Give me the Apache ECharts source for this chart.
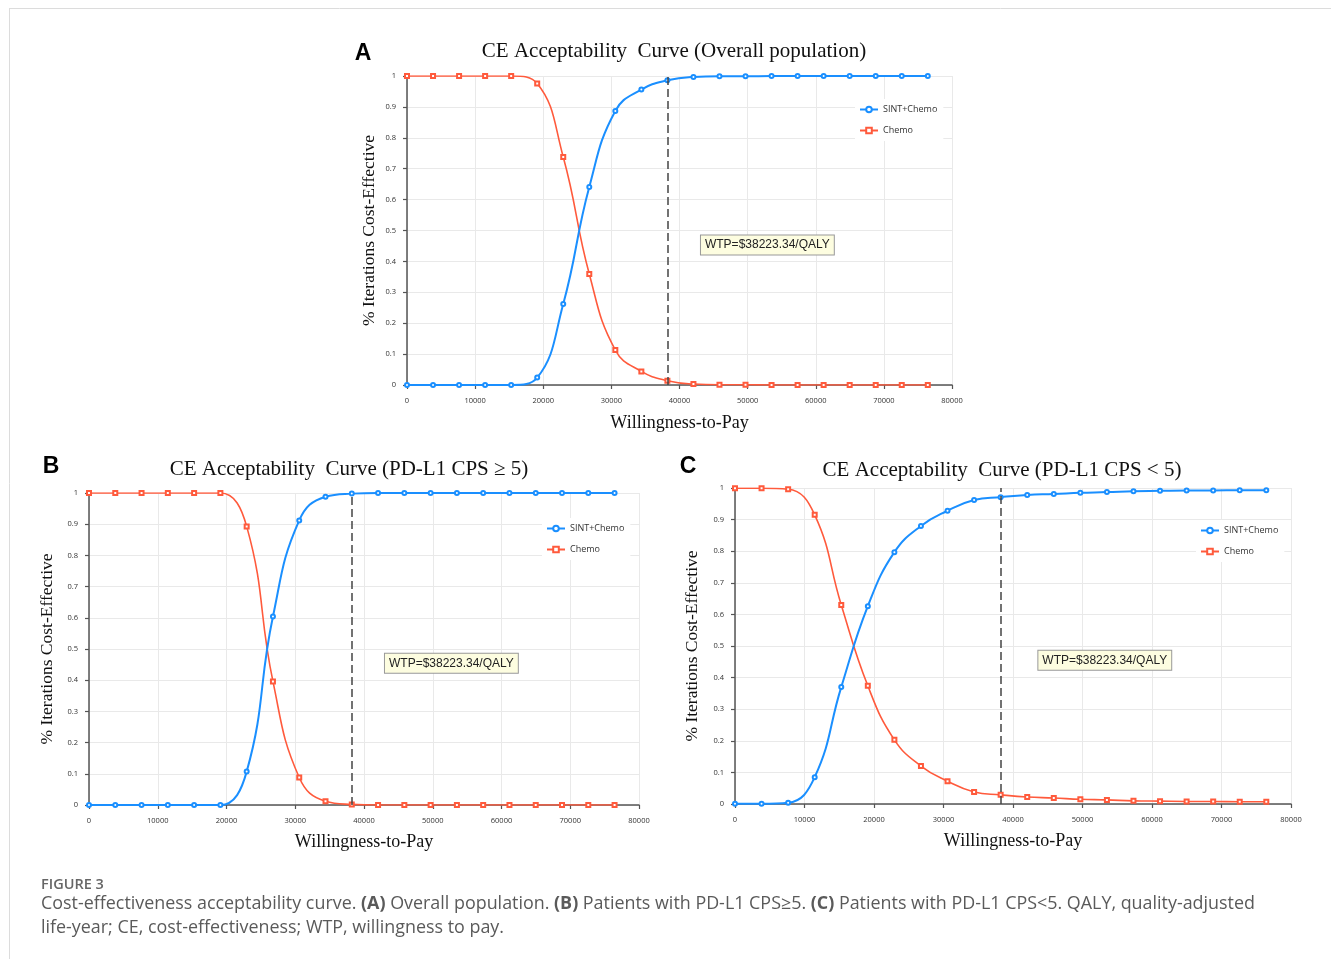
<!DOCTYPE html>
<html><head><meta charset="utf-8">
<script src="https://cdn.jsdelivr.net/npm/echarts@6/dist/echarts.min.js"></script>
<style>html,body{margin:0;padding:0;background:#fff}#c{width:1331px;height:959px}</style>
</head><body><div id="c"></div>
<script>
// Willingness-to-pay points (21 steps, WTP threshold at index 10)
const wtp = [0, 3822.33, 7644.67, 11467.00, 15289.34, 19111.67, 22934.00, 26756.34, 30578.67, 34401.01,
  38223.34, 42045.67, 45868.01, 49690.34, 53512.68, 57335.01, 61157.34, 64979.68, 68802.01, 72624.35, 76446.68];
const wtpThreshold = 38223.34;
const seriesNames = ['SINT+Chemo', 'Chemo'];
const xTicks = [0, 10000, 20000, 30000, 40000, 50000, 60000, 70000, 80000];
const yTicks = [0, 0.1, 0.2, 0.3, 0.4, 0.5, 0.6, 0.7, 0.8, 0.9, 1];

// Panel A: Overall population
const sintA  = [0, 0, 0, 0, 0, 0.024, 0.262, 0.641, 0.887, 0.956, 0.986, 0.997, 0.999, 0.999, 1, 1, 1, 1, 1, 1, 1];
const chemoA = [1, 1, 1, 1, 1, 0.976, 0.738, 0.359, 0.113, 0.044, 0.014, 0.003, 0.001, 0.001, 0, 0, 0, 0, 0, 0, 0];
// Panel B: PD-L1 CPS >= 5
const sintB  = [0, 0, 0, 0, 0, 0, 0.107, 0.604, 0.912, 0.988, 0.998, 1, 1, 1, 1, 1, 1, 1, 1, 1, 1];
const chemoB = [1, 1, 1, 1, 1, 1, 0.893, 0.396, 0.088, 0.012, 0.002, 0, 0, 0, 0, 0, 0, 0, 0, 0, 0];
// Panel C: PD-L1 CPS < 5
const sintC  = [0.001, 0.001, 0.004, 0.085, 0.370, 0.626, 0.797, 0.880, 0.928, 0.962, 0.971, 0.978, 0.981, 0.985, 0.987, 0.990, 0.991, 0.992, 0.992, 0.993, 0.993];
const chemoC = [0.999, 0.999, 0.996, 0.915, 0.630, 0.374, 0.203, 0.120, 0.072, 0.038, 0.029, 0.022, 0.019, 0.015, 0.013, 0.010, 0.009, 0.008, 0.008, 0.007, 0.007];

const titles = {
  A: 'CE Acceptability  Curve (Overall population)',
  B: 'CE Acceptability  Curve (PD-L1 CPS \u2265 5)',
  C: 'CE Acceptability  Curve (PD-L1 CPS < 5)'
};
const yName = '% Iterations Cost-Effective';
const xName = 'Willingness-to-Pay';
const wtpLabel = 'WTP=$38223.34/QALY';

const BLUE = '#1a8fff', RED = '#ff5a3c';
const SERIF = '"Liberation Serif","DejaVu Serif",serif';
const SANS = '"Open Sans","Liberation Sans",sans-serif';

const panels = [
  {key:'A', sint:sintA, chemo:chemoA, grid:{left:407, top:76, width:545, height:309},
   yGap:22, xGap:21, legend:{left:855, top:99}, box:[43150, 0.453],
   title:[674, 51], letter:[363, 54]},
  {key:'B', sint:sintB, chemo:chemoB, grid:{left:89, top:493, width:550, height:312},
   yGap:26, xGap:20, legend:{left:542, top:518}, box:[43050, 0.454],
   title:[349, 469], letter:[51, 467]},
  {key:'C', sint:sintC, chemo:chemoC, grid:{left:735, top:488, width:556, height:316},
   yGap:27, xGap:20, legend:{left:1196, top:520}, box:[43650, 0.455],
   title:[1002, 470], letter:[688, 467]}
];

const grids = [], xAxes = [], yAxes = [], series = [], legends = [], graphics = [];
panels.forEach((p, i) => {
  grids.push(Object.assign({containLabel:false}, p.grid));
  xAxes.push({
    type:'value', gridIndex:i, min:xTicks[0], max:xTicks[xTicks.length-1], interval:xTicks[1]-xTicks[0],
    offset:8, name:xName, nameLocation:'middle', nameGap:p.xGap,
    nameTextStyle:{fontFamily:SERIF, fontSize:18, color:'#111'},
    axisLine:{show:true, lineStyle:{color:'#555', width:1.5}},
    axisTick:{show:true, length:4, lineStyle:{color:'#555', width:1.2}},
    axisLabel:{fontSize:7.5, color:'#333', fontFamily:SANS, margin:4, formatter:v => String(v)},
    splitLine:{show:true, lineStyle:{color:'#e9e9e9', width:1}}
  });
  yAxes.push({
    type:'value', gridIndex:i, min:yTicks[0], max:yTicks[yTicks.length-1], interval:0.1,
    offset:7, name:yName, nameLocation:'middle', nameGap:p.yGap,
    nameTextStyle:{fontFamily:SERIF, fontSize:17.5, color:'#111'},
    axisLine:{show:true, lineStyle:{color:'#555', width:1.5}},
    axisTick:{show:true, length:4, lineStyle:{color:'#555', width:1.2}},
    axisLabel:{fontSize:7.5, color:'#333', fontFamily:SANS, margin:4},
    splitLine:{show:true, lineStyle:{color:'#e9e9e9', width:1}}
  });
  series.push({
    name:seriesNames[0], type:'line', xAxisIndex:i, yAxisIndex:i, smooth:0.45,
    data:wtp.map((x, k) => [x, p.sint[k]]),
    symbol:'emptyCircle', symbolSize:4, color:BLUE,
    lineStyle:{color:BLUE, width:2}, itemStyle:{color:BLUE, borderWidth:1.2},
    z:3,
    markLine:{silent:true, symbol:'none', label:{show:false},
      lineStyle:{color:'#444', type:[8,4], width:1.5},
      data:[{xAxis:wtpThreshold}]},
    markPoint:{silent:true, symbol:'rect', symbolSize:0,
      data:[{coord:p.box, value:wtpLabel}],
      label:{show:true, position:'right', distance:0, formatter:wtpLabel,
        backgroundColor:'#fdfde0', borderColor:'#999', borderWidth:1, padding:[4,4,3,4],
        color:'#222', fontSize:12, fontFamily:'"Liberation Sans",Arial,sans-serif'}}
  });
  series.push({
    name:seriesNames[1], type:'line', xAxisIndex:i, yAxisIndex:i, smooth:0.45,
    data:wtp.map((x, k) => [x, p.chemo[k]]),
    symbol:'emptyRect', symbolSize:4, color:RED,
    lineStyle:{color:RED, width:1.6}, itemStyle:{color:RED, borderWidth:1.1},
    z:2
  });
  legends.push({
    data:seriesNames, orient:'vertical', left:p.legend.left, top:p.legend.top,
    itemWidth:18, itemHeight:7, itemGap:12, backgroundColor:'#fff', padding:[6,6,6,4],
    textStyle:{fontSize:9, color:'#333', fontFamily:SANS}, selectedMode:false
  });
  graphics.push({type:'text', style:{text:titles[p.key], x:p.title[0], y:p.title[1],
    font:'21px ' + SERIF, fill:'#111', align:'center', verticalAlign:'middle'}});
  graphics.push({type:'text', style:{text:p.key, x:p.letter[0], y:p.letter[1],
    font:'bold 23px "Liberation Sans",Arial,sans-serif', fill:'#000', align:'center', verticalAlign:'middle'}});
});

// frame lines
graphics.push({type:'line', shape:{x1:9, y1:8.5, x2:1331, y2:8.5}, style:{stroke:'#dcdcdc', lineWidth:1}});
graphics.push({type:'line', shape:{x1:9.5, y1:8, x2:9.5, y2:959}, style:{stroke:'#dcdcdc', lineWidth:1}});
// caption
graphics.push({type:'text', style:{text:'FIGURE 3', x:41, y:885, font:'600 14.5px ' + SANS, fill:'#666', verticalAlign:'middle'}});
graphics.push({type:'text', style:{
  text:'Cost-effectiveness acceptability curve. {b|(A)} Overall population. {b|(B)} Patients with PD-L1 CPS\u22655. {b|(C)} Patients with PD-L1 CPS<5. QALY, quality-adjusted',
  x:41, y:904, font:'17.9px ' + SANS, fill:'#5a5a5a', verticalAlign:'middle',
  rich:{b:{fontWeight:'bold', fontSize:17.9, fontFamily:SANS, fill:'#5a5a5a'}}}});
graphics.push({type:'text', style:{text:'life-year; CE, cost-effectiveness; WTP, willingness to pay.',
  x:41, y:928, font:'17.9px ' + SANS, fill:'#5a5a5a', verticalAlign:'middle'}});

const chart = echarts.init(document.getElementById('c'), null, {renderer:'canvas'});
chart.setOption({
  backgroundColor:'#fff', animation:false,
  grid:grids, xAxis:xAxes, yAxis:yAxes, series:series, legend:legends, graphic:graphics
});
</script></body></html>
